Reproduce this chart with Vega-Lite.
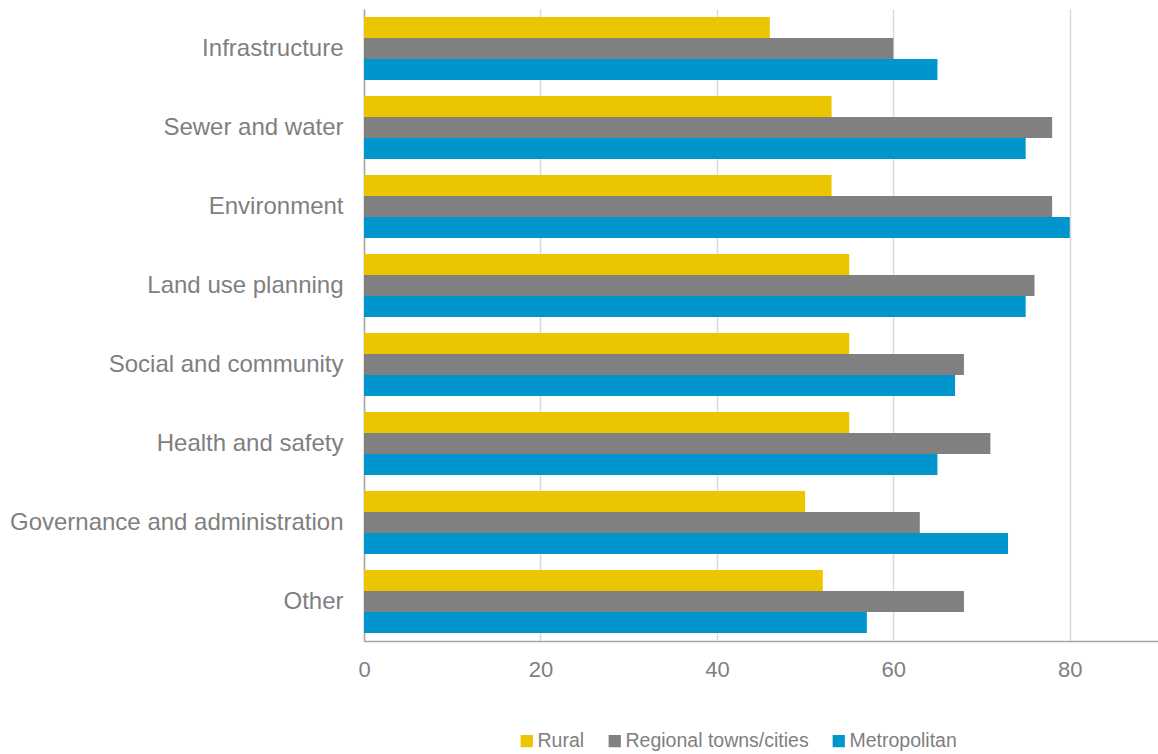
{
  "$schema": "https://vega.github.io/schema/vega-lite/v6.json",
  "autosize": "none",
  "padding": {"left": 364, "top": 9, "right": 0, "bottom": 113},
  "width": 794,
  "height": 632,
  "background": "white",
  "config": {
    "font": "Liberation Sans",
    "view": {"stroke": null}
  },
  "data": {
    "values": [
      {"category": "Infrastructure", "area": "Rural", "value": 46},
      {"category": "Infrastructure", "area": "Regional towns/cities", "value": 60},
      {"category": "Infrastructure", "area": "Metropolitan", "value": 65},
      {"category": "Sewer and water", "area": "Rural", "value": 53},
      {"category": "Sewer and water", "area": "Regional towns/cities", "value": 78},
      {"category": "Sewer and water", "area": "Metropolitan", "value": 75},
      {"category": "Environment ", "area": "Rural", "value": 53},
      {"category": "Environment ", "area": "Regional towns/cities", "value": 78},
      {"category": "Environment ", "area": "Metropolitan", "value": 80},
      {"category": "Land use planning", "area": "Rural", "value": 55},
      {"category": "Land use planning", "area": "Regional towns/cities", "value": 76},
      {"category": "Land use planning", "area": "Metropolitan", "value": 75},
      {"category": "Social and community", "area": "Rural", "value": 55},
      {"category": "Social and community", "area": "Regional towns/cities", "value": 68},
      {"category": "Social and community", "area": "Metropolitan", "value": 67},
      {"category": "Health and safety", "area": "Rural", "value": 55},
      {"category": "Health and safety", "area": "Regional towns/cities", "value": 71},
      {"category": "Health and safety", "area": "Metropolitan", "value": 65},
      {"category": "Governance and administration", "area": "Rural", "value": 50},
      {"category": "Governance and administration", "area": "Regional towns/cities", "value": 63},
      {"category": "Governance and administration", "area": "Metropolitan", "value": 73},
      {"category": "Other", "area": "Rural", "value": 52},
      {"category": "Other", "area": "Regional towns/cities", "value": 68},
      {"category": "Other", "area": "Metropolitan", "value": 57}
    ]
  },
  "mark": {"type": "bar"},
  "encoding": {
    "y": {
      "field": "category",
      "type": "nominal",
      "sort": null,
      "scale": {"paddingInner": 0.2, "paddingOuter": 0.1},
      "axis": {
        "title": null,
        "ticks": false,
        "labelFontSize": 24,
        "labelColor": "#7f7f7f",
        "labelPadding": 21,
        "labelLimit": 400,
        "domainColor": "#a6a6a6",
        "domainWidth": 1.5,
        "grid": false
      }
    },
    "yOffset": {
      "field": "area",
      "type": "nominal",
      "sort": ["Rural", "Regional towns/cities", "Metropolitan"],
      "scale": {"paddingInner": 0, "paddingOuter": 0}
    },
    "x": {
      "field": "value",
      "type": "quantitative",
      "scale": {"domain": [0, 90], "nice": false},
      "axis": {
        "title": null,
        "values": [0, 20, 40, 60, 80],
        "ticks": false,
        "labelFlush": false,
        "labelFontSize": 22,
        "labelColor": "#7f7f7f",
        "labelPadding": 18,
        "domainColor": "#a6a6a6",
        "domainWidth": 1.5,
        "gridColor": "#d9d9d9",
        "gridWidth": 1.5
      }
    },
    "color": {
      "field": "area",
      "type": "nominal",
      "scale": {
        "domain": ["Rural", "Regional towns/cities", "Metropolitan"],
        "range": ["#EAC500", "#808080", "#0096CD"]
      },
      "legend": {
        "title": null,
        "orient": "none",
        "direction": "horizontal",
        "legendX": 153,
        "legendY": 722,
        "symbolType": "square",
        "symbolSize": 150,
        "symbolStrokeWidth": 0,
        "labelFontSize": 19.5,
        "labelColor": "#7f7f7f",
        "labelLimit": 400,
        "labelOffset": 1,
        "columnPadding": 20
      }
    }
  }
}
